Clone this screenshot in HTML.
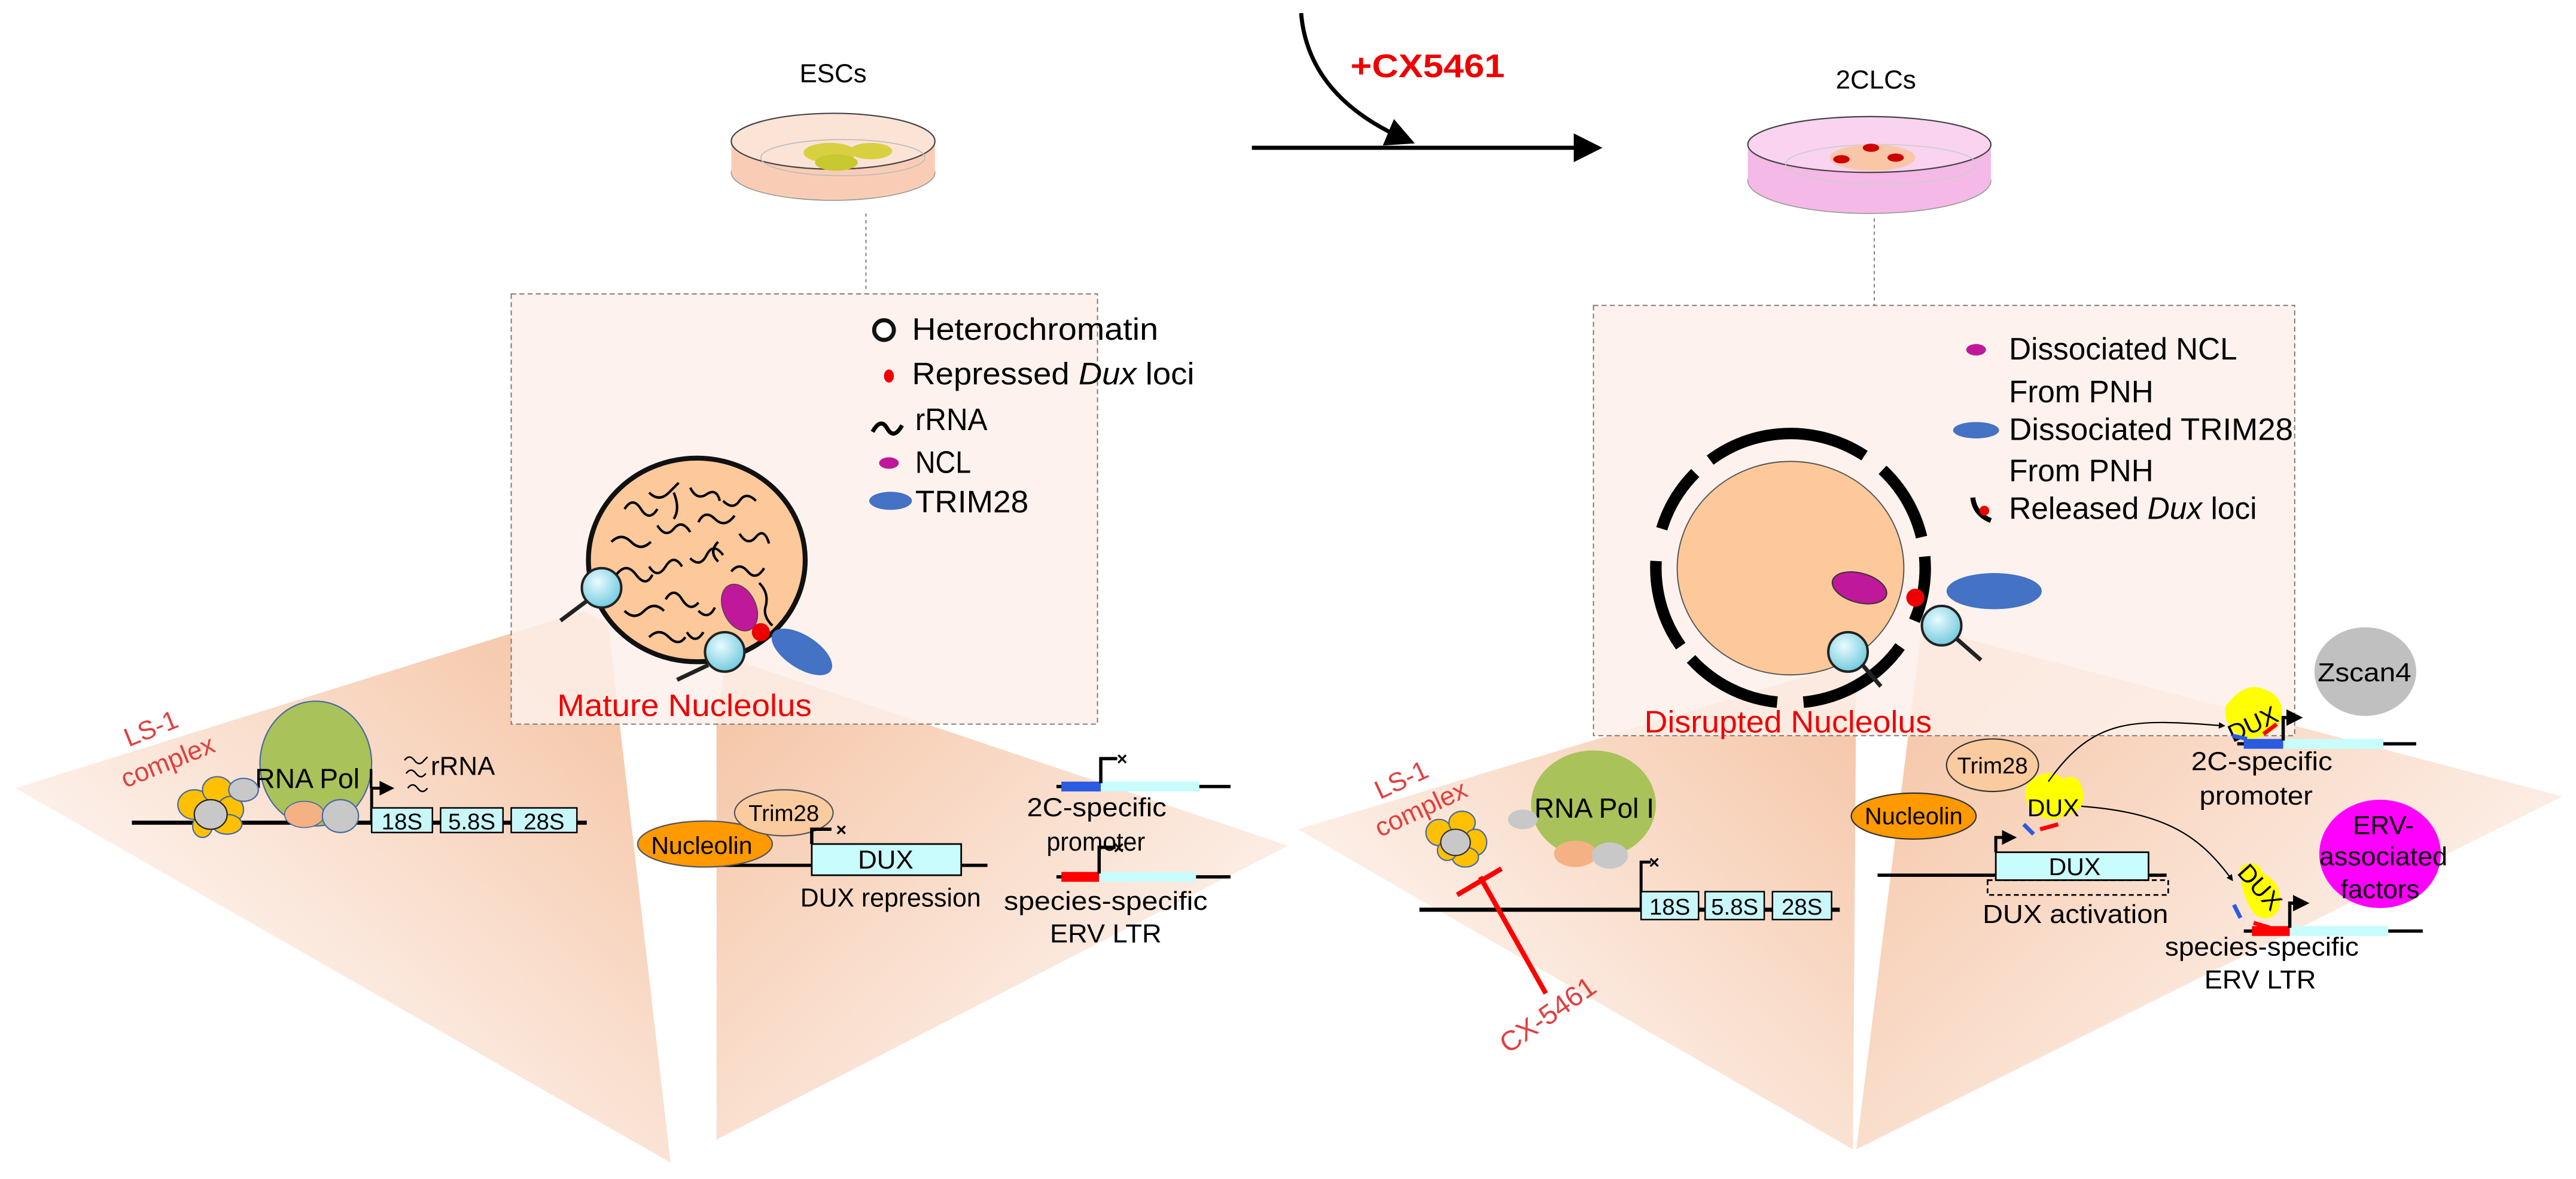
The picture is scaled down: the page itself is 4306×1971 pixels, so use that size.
<!DOCTYPE html>
<html><head><meta charset="utf-8"><style>
html,body{margin:0;padding:0;background:#fff}
svg{display:block}
text{font-family:"Liberation Sans",sans-serif}
</style></head><body>
<svg width="4306" height="1971" viewBox="0 0 1568 718" xmlns="http://www.w3.org/2000/svg">
<defs>
<linearGradient id="gL1" gradientUnits="userSpaceOnUse" x1="360" y1="380" x2="150" y2="620"><stop offset="0" stop-color="#f5c4a4"/><stop offset="1" stop-color="#fdf2ec"/></linearGradient>
<linearGradient id="gL2" gradientUnits="userSpaceOnUse" x1="440" y1="405" x2="680" y2="660"><stop offset="0" stop-color="#f5c4a4"/><stop offset="1" stop-color="#fdf2ec"/></linearGradient>
<linearGradient id="gR1" gradientUnits="userSpaceOnUse" x1="1125" y1="405" x2="900" y2="640"><stop offset="0" stop-color="#f5c4a4"/><stop offset="1" stop-color="#fdf2ec"/></linearGradient>
<linearGradient id="gR2" gradientUnits="userSpaceOnUse" x1="1170" y1="385" x2="1420" y2="660"><stop offset="0" stop-color="#f5c4a4"/><stop offset="1" stop-color="#fdf2ec"/></linearGradient>
<radialGradient id="mag" cx="0.4" cy="0.35" r="0.7"><stop offset="0" stop-color="#e8fbff"/><stop offset="1" stop-color="#6cc8dc"/></radialGradient>
<marker id="ah" viewBox="0 0 10 10" refX="8" refY="5" markerWidth="5" markerHeight="5" orient="auto"><path d="M0,0 L10,5 L0,10 z" fill="#000"/></marker>
<marker id="ahs" viewBox="0 0 10 10" refX="8" refY="5" markerWidth="7" markerHeight="7" orient="auto"><path d="M0,0 L10,5 L0,10 z" fill="#000"/></marker>
</defs>

<polygon points="9,480 355,372 370,380 408,708" fill="url(#gL1)"/>
<polygon points="436,440 442,400 784,515 436,694" fill="url(#gL2)"/>
<polygon points="790,505 1122,405 1130,420 1128,700" fill="url(#gR1)"/>
<polygon points="1170,382 1130,700 1560,485" fill="url(#gR2)"/>

<path d="M792,8 C795,45 820,70 858,86" fill="none" stroke="#000" stroke-width="2.5" marker-end="url(#ahs)"/>
<line x1="762" y1="90" x2="972" y2="90" stroke="#000" stroke-width="2.5" marker-end="url(#ahs)"/>
<text x="822" y="47" font-size="20" font-weight="bold" fill="#e00" textLength="94" lengthAdjust="spacingAndGlyphs">+CX5461</text>

<text x="507" y="50" font-size="16" text-anchor="middle">ESCs</text>
<ellipse cx="507" cy="105" rx="62" ry="17" fill="#f9cdb5" stroke="#999" stroke-width="0.6"/>
<rect x="445" y="85" width="124" height="20" fill="#f9cdb5"/>
<ellipse cx="507" cy="86" rx="62" ry="17" fill="#fbe3d6" stroke="#444" stroke-width="0.8"/>
<ellipse cx="513" cy="96" rx="50" ry="11" fill="none" stroke="#bbb" stroke-width="0.6"/>
<ellipse cx="505" cy="93" rx="16" ry="6" fill="#d8d040"/><ellipse cx="530" cy="92" rx="13" ry="5" fill="#d8d040"/><ellipse cx="509" cy="99" rx="13" ry="5" fill="#c8c830"/>
<line x1="527" y1="130" x2="527" y2="178" stroke="#666" stroke-width="0.6" stroke-dasharray="2,2"/>

<text x="1142" y="54" font-size="16" text-anchor="middle">2CLCs</text>
<ellipse cx="1138" cy="110" rx="74" ry="20" fill="#f4b9e6" stroke="#999" stroke-width="0.6"/>
<rect x="1064" y="88" width="148" height="22" fill="#f4b9e6"/>
<ellipse cx="1138" cy="88" rx="74" ry="17" fill="#f9d3ef" stroke="#444" stroke-width="0.8"/>
<ellipse cx="1145" cy="100" rx="58" ry="12" fill="none" stroke="#ccc" stroke-width="0.6"/>
<ellipse cx="1140" cy="96" rx="26" ry="8" fill="#f9c7a8"/>
<ellipse cx="1121" cy="97" rx="5" ry="2.5" fill="#c00"/><ellipse cx="1139" cy="90" rx="5" ry="2.5" fill="#c00"/><ellipse cx="1154" cy="96" rx="5" ry="2.5" fill="#c00"/>
<line x1="1141" y1="133" x2="1141" y2="186" stroke="#666" stroke-width="0.6" stroke-dasharray="2,2"/>

<!-- Left box -->
<rect x="311" y="179" width="357" height="262" fill="#fdf0ea" fill-opacity="0.85" stroke="#777" stroke-width="0.7" stroke-dasharray="3,2"/>
<circle cx="538" cy="201" r="6" fill="#fff" stroke="#111" stroke-width="2.5"/>
<text x="555" y="207" font-size="19" textLength="150" lengthAdjust="spacingAndGlyphs">Heterochromatin</text>
<ellipse cx="541" cy="229" rx="3" ry="4" fill="#e00"/>
<text x="555" y="234" font-size="19" textLength="172" lengthAdjust="spacingAndGlyphs">Repressed <tspan font-style="italic">Dux</tspan> loci</text>
<path d="M531,263 q5,-9 9,-2 q4,7 9,-2" fill="none" stroke="#000" stroke-width="2.5"/>
<text x="557" y="262" font-size="19" textLength="44" lengthAdjust="spacingAndGlyphs">rRNA</text>
<ellipse cx="541" cy="282" rx="6" ry="3.5" fill="#c0189a"/>
<text x="557" y="288" font-size="19" textLength="34" lengthAdjust="spacingAndGlyphs">NCL</text>
<ellipse cx="542" cy="305" rx="13" ry="5.5" fill="#4472c4"/>
<text x="557" y="312" font-size="19" textLength="69" lengthAdjust="spacingAndGlyphs">TRIM28</text>

<ellipse cx="424" cy="341" rx="66" ry="62" fill="#fdc99a" stroke="#111" stroke-width="3"/>
<g fill="none" stroke="#000" stroke-width="1.5">
<path d="M380,310 q5,-8 10,0 q5,8 10,0"/><path d="M395,300 q6,6 12,0 l6,-6"/><path d="M420,297 q4,8 10,4 q6,-4 8,4"/>
<path d="M440,305 q6,6 10,0 q4,-6 10,0"/><path d="M372,330 q6,-6 12,0 q6,6 12,0"/><path d="M400,320 q5,8 10,2 q5,-6 10,2"/>
<path d="M425,318 q4,-8 10,-2 q6,6 12,-2"/><path d="M450,325 q5,8 10,2 q5,-6 8,4"/><path d="M375,350 q6,-8 12,0 q6,8 10,0"/>
<path d="M395,345 q5,8 10,0 q5,-8 10,0"/><path d="M420,340 q6,6 10,-2 q4,-8 10,0"/><path d="M445,348 q5,-6 10,0 q5,6 10,-2"/>
<path d="M380,372 q6,6 12,0 q6,-6 12,0"/><path d="M405,365 q5,-8 10,0 q5,8 10,2"/><path d="M425,372 q6,6 10,-2"/>
<path d="M395,388 q6,-6 12,0 q6,6 10,0"/><path d="M418,385 q5,8 10,0"/><path d="M462,355 q6,6 4,14 q-2,6 4,12"/>
<path d="M410,300 q4,10 0,16"/><path d="M437,330 q-6,6 0,12"/>
</g>
<ellipse cx="450" cy="370" rx="10" ry="15" transform="rotate(-25 450 370)" fill="#c0189a" stroke="#444" stroke-width="0.5"/>
<circle cx="463" cy="385" r="5.5" fill="#e00"/>
<ellipse cx="488" cy="397" rx="21" ry="10" transform="rotate(33 488 397)" fill="#4472c4"/>
<g><line x1="357" y1="366" x2="341" y2="378" stroke="#222" stroke-width="2.5"/><circle cx="366" cy="358" r="12" fill="url(#mag)" stroke="#222" stroke-width="1.5"/></g>
<g><line x1="431" y1="405" x2="412" y2="414" stroke="#222" stroke-width="2.5"/><circle cx="441" cy="397" r="12" fill="url(#mag)" stroke="#222" stroke-width="1.5"/></g>
<text x="339" y="436" font-size="19" fill="#e00" textLength="155" lengthAdjust="spacingAndGlyphs">Mature Nucleolus</text>

<!-- Right box -->
<rect x="970" y="186" width="427" height="262" fill="#fdf0ea" fill-opacity="0.85" stroke="#777" stroke-width="0.7" stroke-dasharray="3,2"/>
<ellipse cx="1203" cy="213" rx="6" ry="3.5" fill="#c0189a"/>
<text x="1223" y="219" font-size="19" textLength="139" lengthAdjust="spacingAndGlyphs">Dissociated NCL</text>
<text x="1223" y="245" font-size="19" textLength="88" lengthAdjust="spacingAndGlyphs">From PNH</text>
<ellipse cx="1203" cy="262" rx="14" ry="5" fill="#4472c4"/>
<text x="1223" y="268" font-size="19" textLength="173" lengthAdjust="spacingAndGlyphs">Dissociated TRIM28</text>
<text x="1223" y="293" font-size="19" textLength="88" lengthAdjust="spacingAndGlyphs">From PNH</text>
<path d="M1201,303 q1,10 11,14" fill="none" stroke="#000" stroke-width="3"/>
<circle cx="1208" cy="311" r="3" fill="#e00"/>
<text x="1223" y="316" font-size="19" textLength="151" lengthAdjust="spacingAndGlyphs">Released <tspan font-style="italic">Dux</tspan> loci</text>

<circle cx="1090" cy="346" r="82" fill="none" stroke="#000" stroke-width="7" stroke-dasharray="62,14 48,12 40,18 70,16 60,10 55,20 40,12" transform="rotate(-100 1090 346)"/>
<ellipse cx="1090" cy="346" rx="69" ry="65" fill="#fdc99a" stroke="#555" stroke-width="0.7"/>
<ellipse cx="1132" cy="358" rx="17" ry="9" transform="rotate(15 1132 358)" fill="#c0189a" stroke="#333" stroke-width="0.7"/>
<circle cx="1166" cy="364" r="5.5" fill="#e00"/>
<ellipse cx="1214" cy="360" rx="29" ry="11" fill="#4472c4"/>
<g><line x1="1133" y1="404" x2="1145" y2="418" stroke="#222" stroke-width="2.5"/><circle cx="1125" cy="397" r="12" fill="url(#mag)" stroke="#222" stroke-width="1.5"/></g>
<g><line x1="1190" y1="388" x2="1206" y2="402" stroke="#222" stroke-width="2.5"/><circle cx="1182" cy="381" r="12" fill="url(#mag)" stroke="#222" stroke-width="1.5"/></g>
<text x="1001" y="446" font-size="19" fill="#e00" textLength="175" lengthAdjust="spacingAndGlyphs">Disrupted Nucleolus</text>

<!-- Left bottom rDNA -->
<text x="78" y="455" font-size="16" fill="#e04040" transform="rotate(-22 78 455)">LS-1</text>
<text x="76" y="480" font-size="16" fill="#e04040" transform="rotate(-22 76 480)" textLength="60" lengthAdjust="spacingAndGlyphs">complex</text>
<line x1="80" y1="501" x2="357" y2="501" stroke="#000" stroke-width="2.5"/>
<ellipse cx="192" cy="465" rx="34" ry="38" fill="#a9c25a" stroke="#4a6aa0" stroke-width="0.8"/>
<text x="155" y="480" font-size="17" textLength="73" lengthAdjust="spacingAndGlyphs">RNA Pol I</text>
<ellipse cx="185" cy="496" rx="12" ry="8" fill="#f4b183" stroke="#4a6aa0" stroke-width="0.6"/>
<ellipse cx="207" cy="497" rx="11" ry="10" fill="#c8c8c8" stroke="#4a6aa0" stroke-width="0.8"/>
<g fill="#ffc000" stroke="#4a6aa0" stroke-width="0.8">
<ellipse cx="118" cy="490" rx="10" ry="9"/><ellipse cx="132" cy="481" rx="9" ry="8"/><ellipse cx="140" cy="493" rx="8" ry="8"/>
<ellipse cx="138" cy="502" rx="9" ry="6"/><ellipse cx="123" cy="503" rx="6" ry="7"/></g>
<ellipse cx="128" cy="496" rx="10" ry="9" fill="#c8c8c8" stroke="#222" stroke-width="0.8"/>
<ellipse cx="148" cy="481" rx="9" ry="7" fill="#c8c8c8" stroke="#4a6aa0" stroke-width="0.8"/>
<path d="M226,501 V480 H238" fill="none" stroke="#000" stroke-width="1.8" marker-end="url(#ah)"/>
<g fill="none" stroke="#000" stroke-width="0.9"><path d="M246,463 q3,-4 6,0 q3,4 6,0 l2,-2"/><path d="M247,471 q3,-4 6,0 q3,4 6,0"/><path d="M248,480 q3,-4 6,0 q3,4 6,0"/></g>
<text x="262" y="472" font-size="16">rRNA</text>
<g stroke="#000" stroke-width="0.9" fill="#c9f7f9">
<rect x="226" y="492" width="37" height="15"/><rect x="268" y="492" width="38" height="15"/><rect x="311" y="492" width="40" height="15"/></g>
<g font-size="14" text-anchor="middle"><text x="244.5" y="505">18S</text><text x="287" y="505">5.8S</text><text x="331" y="505">28S</text></g>

<!-- DUX repression -->
<line x1="432" y1="527" x2="601" y2="527" stroke="#000" stroke-width="2"/>
<ellipse cx="429" cy="514" rx="41" ry="14" fill="#ff9900" stroke="#555" stroke-width="0.8"/>
<text x="427" y="520" font-size="15" text-anchor="middle">Nucleolin</text>
<ellipse cx="477" cy="495" rx="30" ry="14" fill="#fbcba0" stroke="#555" stroke-width="0.8"/>
<text x="477" y="500" font-size="14" text-anchor="middle">Trim28</text>
<rect x="494" y="514" width="91" height="19" fill="#c9fcfc" stroke="#000" stroke-width="1"/>
<text x="539" y="529" font-size="16" text-anchor="middle">DUX</text>
<path d="M494,514 V505 H506" fill="none" stroke="#000" stroke-width="2"/>
<text x="512" y="509" font-size="11" font-weight="bold" text-anchor="middle">×</text>
<text x="487" y="552" font-size="16" textLength="110" lengthAdjust="spacingAndGlyphs">DUX  repression</text>

<line x1="643" y1="479" x2="749" y2="479" stroke="#000" stroke-width="2"/>
<rect x="646" y="476" width="24" height="6" fill="#2a5ce0"/>
<rect x="670" y="476" width="60" height="6" fill="#c9fcfc"/>
<path d="M670,477 V462 H680" fill="none" stroke="#000" stroke-width="2"/>
<text x="683" y="466" font-size="11" font-weight="bold" text-anchor="middle">×</text>
<text x="625" y="497" font-size="16" textLength="85" lengthAdjust="spacingAndGlyphs">2C-specific</text>
<text x="637" y="518" font-size="16" textLength="60" lengthAdjust="spacingAndGlyphs">promoter</text>
<line x1="643" y1="534" x2="749" y2="534" stroke="#000" stroke-width="2"/>
<rect x="646" y="531" width="23" height="6" fill="#f00"/>
<rect x="669" y="531" width="59" height="6" fill="#c9fcfc"/>
<path d="M669,532 V516 H679" fill="none" stroke="#000" stroke-width="2"/>
<text x="681" y="520" font-size="11" font-weight="bold" text-anchor="middle">×</text>
<text x="611" y="554" font-size="16" textLength="124" lengthAdjust="spacingAndGlyphs">species-specific</text>
<text x="639" y="574" font-size="16" textLength="68" lengthAdjust="spacingAndGlyphs">ERV LTR</text>

<!-- Right bottom rDNA -->
<text x="840" y="487" font-size="16" fill="#e04040" transform="rotate(-25 840 487)">LS-1</text>
<text x="840" y="510" font-size="16" fill="#e04040" transform="rotate(-25 840 510)" textLength="60" lengthAdjust="spacingAndGlyphs">complex</text>
<line x1="864" y1="554" x2="1120" y2="554" stroke="#000" stroke-width="2.5"/>
<ellipse cx="970" cy="490" rx="38" ry="33" fill="#a9c25a"/>
<text x="934" y="498" font-size="17" textLength="73" lengthAdjust="spacingAndGlyphs">RNA Pol I</text>
<ellipse cx="927" cy="499" rx="9" ry="6" fill="#c8c8c8"/>
<ellipse cx="959" cy="520" rx="13" ry="8" fill="#f4b183"/>
<ellipse cx="980" cy="521" rx="11" ry="8" fill="#c8c8c8"/>
<g fill="#ffc000" stroke="#4a6aa0" stroke-width="0.8">
<ellipse cx="876" cy="507" rx="8" ry="8"/><ellipse cx="890" cy="501" rx="8" ry="7"/><ellipse cx="898" cy="513" rx="7" ry="8"/>
<ellipse cx="892" cy="522" rx="8" ry="6"/><ellipse cx="881" cy="518" rx="6" ry="6"/></g>
<ellipse cx="886" cy="513" rx="9" ry="8" fill="#c8c8c8" stroke="#333" stroke-width="0.8"/>
<line x1="901" y1="534" x2="941" y2="605" stroke="#f00" stroke-width="3"/>
<line x1="887" y1="545" x2="914" y2="529" stroke="#f00" stroke-width="3"/>
<text x="918" y="642" font-size="17" fill="#e04040" transform="rotate(-35 918 642)">CX-5461</text>
<path d="M999,554 V525 H1005" fill="none" stroke="#000" stroke-width="1.8"/>
<text x="1007" y="529" font-size="11" font-weight="bold" text-anchor="middle">×</text>
<g stroke="#000" stroke-width="0.9" fill="#c9f7f9">
<rect x="999" y="543" width="35" height="17"/><rect x="1038" y="543" width="36" height="17"/><rect x="1079" y="543" width="36" height="17"/></g>
<g font-size="14" text-anchor="middle"><text x="1016.5" y="557">18S</text><text x="1056" y="557">5.8S</text><text x="1097" y="557">28S</text></g>

<!-- DUX activation -->
<ellipse cx="1213" cy="466" rx="28" ry="16" fill="#fbcba0" stroke="#333" stroke-width="0.8"/>
<text x="1213" y="471" font-size="14" text-anchor="middle">Trim28</text>
<ellipse cx="1165" cy="497" rx="38" ry="14" fill="#ff9900" stroke="#333" stroke-width="0.8"/>
<text x="1165" y="502" font-size="14.5" text-anchor="middle">Nucleolin</text>
<line x1="1143" y1="533" x2="1319" y2="533" stroke="#000" stroke-width="2"/>
<rect x="1215" y="519" width="93" height="17" fill="#c9fcfc" stroke="#000" stroke-width="1"/>
<text x="1263" y="533" font-size="15" text-anchor="middle">DUX</text>
<rect x="1210" y="536" width="110" height="9" fill="none" stroke="#000" stroke-width="1" stroke-dasharray="3,2"/>
<path d="M1215,519 V510 H1226" fill="none" stroke="#000" stroke-width="1.8" marker-end="url(#ah)"/>
<text x="1207" y="562" font-size="16" textLength="113" lengthAdjust="spacingAndGlyphs">DUX  activation</text>
<path d="M1234,478 q10,-12 22,-4 q10,-4 12,8 q2,12 -10,14 q-8,6 -18,0 q-10,-8 -6,-18z" fill="#ffff00"/>
<text x="1250" y="497" font-size="15" text-anchor="middle">DUX</text>
<line x1="1232" y1="502" x2="1238" y2="508" stroke="#2a5ce0" stroke-width="2.5"/>
<line x1="1242" y1="505" x2="1253" y2="502" stroke="#f00" stroke-width="2.5"/>
<path d="M1247,476 C1275,436 1300,438 1354,442" fill="none" stroke="#000" stroke-width="0.8" marker-end="url(#ah)"/>
<path d="M1267,491 C1320,495 1340,510 1359,536" fill="none" stroke="#000" stroke-width="0.8" marker-end="url(#ah)"/>

<path d="M1355,430 q12,-16 24,-10 q12,4 10,18 q-6,12 -22,12 q-14,-6 -12,-20z" fill="#ffff00"/>
<text x="1372" y="446" font-size="15" text-anchor="middle" transform="rotate(-25 1372 442)">DUX</text>
<line x1="1359" y1="448" x2="1368" y2="450" stroke="#2a5ce0" stroke-width="2.5"/>
<line x1="1378" y1="447" x2="1386" y2="441" stroke="#f00" stroke-width="2.5"/>
<line x1="1362" y1="453" x2="1471" y2="453" stroke="#000" stroke-width="2"/>
<rect x="1366" y="450" width="24" height="6" fill="#2a5ce0"/>
<rect x="1390" y="450" width="61" height="6" fill="#c9fcfc"/>
<path d="M1390,451 V437 H1400" fill="none" stroke="#000" stroke-width="2" marker-end="url(#ah)"/>
<ellipse cx="1440" cy="409" rx="31" ry="27" fill="#c0c0c0"/>
<text x="1411" y="415" font-size="16" textLength="57" lengthAdjust="spacingAndGlyphs">Zscan4</text>
<text x="1334" y="469" font-size="16" textLength="86" lengthAdjust="spacingAndGlyphs">2C-specific</text>
<text x="1339" y="490" font-size="16" textLength="69" lengthAdjust="spacingAndGlyphs">promoter</text>

<ellipse cx="1449" cy="520" rx="37" ry="33" fill="#ff00ff"/>
<text x="1451" y="508" font-size="16" text-anchor="middle">ERV-</text>
<text x="1412" y="527" font-size="16" textLength="78" lengthAdjust="spacingAndGlyphs">associated</text>
<text x="1449" y="547" font-size="16" text-anchor="middle">factors</text>
<path d="M1364,528 q10,-6 14,4 q12,6 10,20 q-4,10 -14,6 q-10,-10 -10,-30z" fill="#ffff00"/>
<text x="1375" y="545" font-size="15" text-anchor="middle" transform="rotate(48 1375 541)">DUX</text>
<line x1="1360" y1="551" x2="1364" y2="559" stroke="#2a5ce0" stroke-width="2.5"/>
<line x1="1372" y1="562" x2="1382" y2="565" stroke="#f00" stroke-width="2.5"/>
<line x1="1366" y1="567" x2="1475" y2="567" stroke="#000" stroke-width="2"/>
<rect x="1371" y="564" width="23" height="6" fill="#f00"/>
<rect x="1394" y="564" width="60" height="6" fill="#c9fcfc"/>
<path d="M1394,565 V550 H1404" fill="none" stroke="#000" stroke-width="2" marker-end="url(#ah)"/>
<text x="1318" y="582" font-size="16" textLength="118" lengthAdjust="spacingAndGlyphs">species-specific</text>
<text x="1342" y="602" font-size="16" textLength="68" lengthAdjust="spacingAndGlyphs">ERV LTR</text>
</svg>
</body></html>
